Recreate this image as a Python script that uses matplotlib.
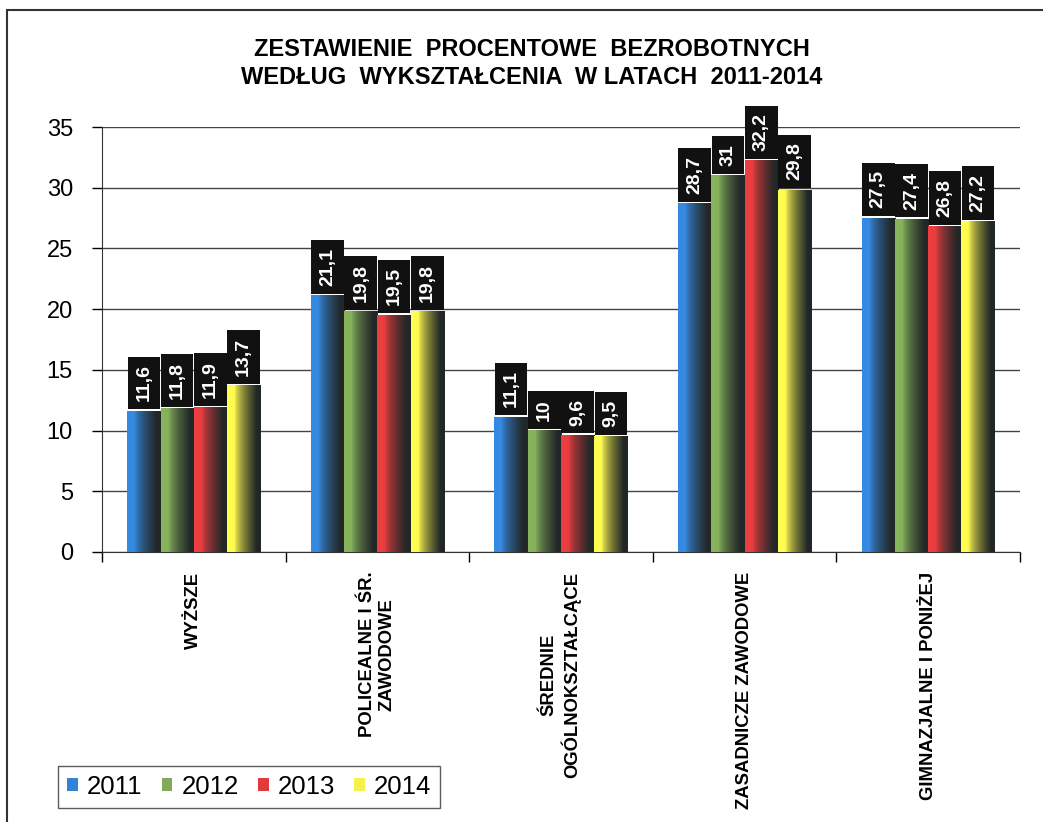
import numpy as np
import matplotlib
matplotlib.use('Agg')
import matplotlib.pyplot as plt
from matplotlib.patches import Patch, Rectangle
from matplotlib.colors import to_rgb

# data
categories = ['WYŻSZE', 'POLICEALNE I ŚR.\nZAWODOWE', 'ŚREDNIE\nOGÓLNOKSZTAŁCĄCE',
              'ZASADNICZE ZAWODOWE', 'GIMNAZJALNE I PONIŻEJ']
years = ['2011', '2012', '2013', '2014']
v2011 = [11.6, 21.1, 11.1, 28.7, 27.5]
v2012 = [11.8, 19.8, 10.0, 31.0, 27.4]
v2013 = [11.9, 19.5, 9.6, 32.2, 26.8]
v2014 = [13.7, 19.8, 9.5, 29.8, 27.2]
series = [v2011, v2012, v2013, v2014]
colors = ['#3283d6', '#80aa58', '#e03a3c', '#f4f04c']

plt.rcParams['font.family'] = ['Liberation Sans', 'DejaVu Sans']

fig = plt.figure(figsize=(10.43, 8.22), dpi=100)
ax = fig.add_axes([102/1043, 1-552/822, 918/1043, 425/822])

x = np.arange(len(categories))
group = 0.725
bw = group / len(series)


def gradient_img(c):
    # horizontal shading: colour on the left, dark towards the right edge
    base = np.array(to_rgb(c))
    dark = np.array([0.13, 0.15, 0.15])
    t = np.linspace(0, 1, 64)
    f = np.clip((t - 0.22) / 0.66, 0, 1) ** 0.7
    img = base[None, :] * (1 - f[:, None]) + dark[None, :] * f[:, None]
    img = np.clip(img * (1 + 0.06 * (1 - t[:, None])), 0, 1)
    return img[None, :, :]


for i, (vals, c) in enumerate(zip(series, colors)):
    xs = x - group/2 + bw*(i + 0.5)
    bars = ax.bar(xs, vals, bw, color=c, zorder=2)
    img = gradient_img(c)
    for r, v in zip(bars, vals):
        ax.imshow(img, extent=(r.get_x(), r.get_x()+r.get_width(), 0, r.get_height()),
                  aspect='auto', zorder=3, interpolation='bilinear')
        txt = ('%g' % v).replace('.', ',')
        ax.annotate(txt, (r.get_x()+r.get_width()/2, v), xytext=(0, 7),
                    textcoords='offset points', ha='center', va='bottom',
                    rotation=90, color='white', fontsize=14, fontweight='bold',
                    zorder=5,
                    bbox=dict(boxstyle='square,pad=0.4', fc='#111111', ec='none'))

ax.set_xlim(-0.5, len(categories)-0.5)
ax.set_ylim(0, 35)
ax.set_yticks(range(0, 36, 5))
ax.tick_params(axis='y', labelsize=17, length=7, width=1, pad=14)
ax.set_xticks(x)
ax.set_xticklabels(categories, rotation=90, fontsize=13.3, fontweight='bold',
                   va='top', ha='center', multialignment='center')
ax.tick_params(axis='x', length=0, pad=14)
ax.set_xticks(np.arange(len(categories)+1) - 0.5, minor=True)
ax.tick_params(axis='x', which='minor', length=7, width=1)
ax.grid(axis='y', color='#444444', lw=1)
ax.set_axisbelow(True)
for s in ['top', 'right']:
    ax.spines[s].set_visible(False)
ax.spines['left'].set_color('#333333')
ax.spines['bottom'].set_color('#333333')

fig.text(532/1043, 1-50/822, 'ZESTAWIENIE  PROCENTOWE  BEZROBOTNYCH',
         ha='center', va='center', fontsize=17, fontweight='bold')
fig.text(532/1043, 1-78/822, 'WEDŁUG  WYKSZTAŁCENIA  W LATACH  2011-2014',
         ha='center', va='center', fontsize=17, fontweight='bold')

handles = [Patch(facecolor=c, edgecolor='none') for c in colors]
leg = fig.legend(handles, years, loc='lower left',
                 bbox_to_anchor=(58/1043, 1-808/822), ncol=4, fontsize=18.5,
                 frameon=True, fancybox=False, edgecolor='#333333',
                 handlelength=0.42, handleheight=0.42, handletextpad=0.35,
                 columnspacing=0.75, borderpad=0.35, borderaxespad=0)
leg.get_frame().set_linewidth(1)

fig.patches.append(Rectangle((7/1043, -0.1), 1.2, 1.1 - 10/822, fill=False,
                             ec='#333333', lw=1.5, transform=fig.transFigure))

fig.savefig('out.png', dpi=100)
